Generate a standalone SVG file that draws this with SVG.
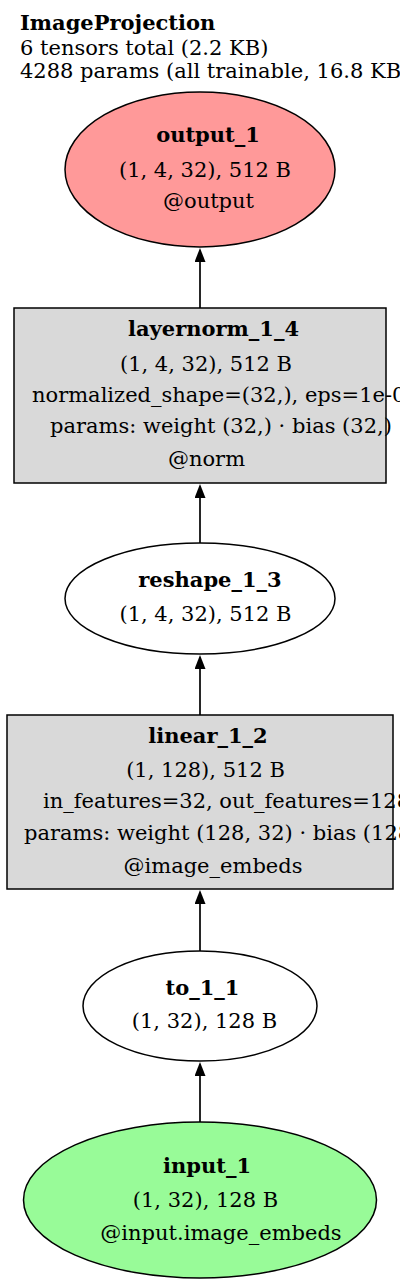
<svg xmlns="http://www.w3.org/2000/svg" width="400" height="1285" viewBox="0 0 400 1285">
<style>
text{font-family:"DejaVu Serif","Liberation Serif",serif;font-size:21px;fill:#000}
.b{font-weight:bold}
.m{text-anchor:middle}
.node{stroke:#000;stroke-width:1.5}
.edge{stroke:#000;stroke-width:1.7;fill:none}
</style>
<defs>
<marker id="arr" markerUnits="userSpaceOnUse" markerWidth="11" markerHeight="14" viewBox="0 0 11 14" refX="5.5" refY="14" orient="0">
<path d="M0,14 L5.5,0 L11,14 z" fill="#000"/>
</marker>
</defs>
<rect width="400" height="1285" fill="#fff"/>
<g id="title">
<text class="b" x="20" y="30">ImageProjection</text>
<text x="20" y="55">6 tensors total (2.2 KB)</text>
<text x="20" y="78">4288 params (all trainable, 16.8 KB)</text>
</g>
<g id="edges">
<path class="edge" d="M200,1122 V1076" marker-end="url(#arr)"/>
<path class="edge" d="M200,951 V904" marker-end="url(#arr)"/>
<path class="edge" d="M200,715 V669" marker-end="url(#arr)"/>
<path class="edge" d="M200,543 V498" marker-end="url(#arr)"/>
<path class="edge" d="M200,308 V262" marker-end="url(#arr)"/>
</g>
<g id="output_1">
<ellipse class="node" cx="200" cy="169.5" rx="135" ry="77.5" fill="#ff9999"/>
<text class="b m" x="208" y="142">output_1</text>
<text class="m" x="205" y="177">(1, 4, 32), 512 B</text>
<text class="m" x="208.5" y="208">@output</text>
</g>
<g id="layernorm_1_4">
<rect class="node" x="14" y="308" width="372" height="175" fill="#d9d9d9"/>
<text class="b m" x="213.5" y="336">layernorm_1_4</text>
<text class="m" x="206" y="371">(1, 4, 32), 512 B</text>
<text x="32" y="402">normalized_shape=(32,), eps=1e-05</text>
<text x="50" y="433">params: weight (32,) · bias (32,)</text>
<text class="m" x="206.5" y="466">@norm</text>
</g>
<g id="reshape_1_3">
<ellipse class="node" cx="200" cy="598.5" rx="135" ry="55.5" fill="#fff"/>
<text class="b m" x="210" y="587">reshape_1_3</text>
<text class="m" x="205.5" y="621">(1, 4, 32), 512 B</text>
</g>
<g id="linear_1_2">
<rect class="node" x="7" y="715" width="386" height="174" fill="#d9d9d9"/>
<text class="b m" x="208" y="743">linear_1_2</text>
<text class="m" x="205.5" y="777">(1, 128), 512 B</text>
<text x="43" y="808">in_features=32, out_features=128</text>
<text x="24" y="840">params: weight (128, 32) · bias (128,)</text>
<text class="m" x="213" y="873">@image_embeds</text>
</g>
<g id="to_1_1">
<ellipse class="node" cx="200" cy="1006" rx="117" ry="55" fill="#fff"/>
<text class="b m" x="202.5" y="995">to_1_1</text>
<text class="m" x="204.5" y="1028">(1, 32), 128 B</text>
</g>
<g id="input_1">
<ellipse class="node" cx="200" cy="1200" rx="176.5" ry="78" fill="#98fb98"/>
<text class="b m" x="207" y="1173">input_1</text>
<text class="m" x="205.5" y="1207">(1, 32), 128 B</text>
<text class="m" x="221" y="1240">@input.image_embeds</text>
</g>
</svg>
